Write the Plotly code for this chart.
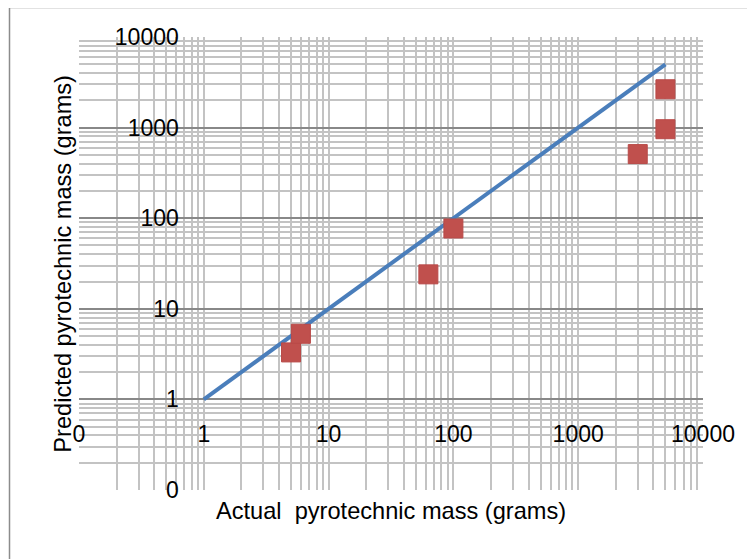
import plotly.graph_objects as go

# Data
line_x = [1, 5000]
line_y = [1, 5000]
pts_x = [5, 6, 63, 100, 3000, 5000, 5000]
pts_y = [3.3, 5.3, 24, 77, 510, 960, 2650]

tick_vals = [0.1, 1, 10, 100, 1000, 10000]
tick_text = ["0", "1", "10", "100", "1000", "10000"]
minor_vals = [m * d for d in [0.1, 1, 10, 100, 1000] for m in range(2, 10)]

FONT = "Liberation Sans"
MAJOR = "#888888"
MINOR = "#C3C3C3"

fig = go.Figure()
fig.add_trace(go.Scatter(x=line_x, y=line_y, mode="lines",
                         line=dict(color="#4A7EBB", width=4), showlegend=False))
fig.add_trace(go.Scatter(x=pts_x, y=pts_y, mode="markers",
                         marker=dict(symbol="square", size=19, color="#C0504D",
                                     line=dict(color="#B94A48", width=1)),
                         showlegend=False))

fig.update_layout(
    width=755, height=559,
    margin=dict(l=71, r=60, t=29, b=77),
    paper_bgcolor="white", plot_bgcolor="white",
    font=dict(family=FONT, size=23, color="black"),
    xaxis=dict(type="log", range=[-1, 4], anchor="free", position=0.2,
               automargin=False,
               tickmode="array", tickvals=tick_vals, ticktext=tick_text,
               showgrid=False, zeroline=False,
               showline=False, ticks="", ticklabelstandoff=19,
               minor=dict(tickmode="array", tickvals=minor_vals + tick_vals,
                          showgrid=True, gridcolor=MINOR, gridwidth=1.5, ticks="")),
    yaxis=dict(type="log", range=[-1, 4], anchor="free", position=0.2,
               automargin=False,
               tickmode="array", tickvals=tick_vals, ticktext=tick_text,
               showgrid=True, gridcolor=MAJOR, gridwidth=1.5, zeroline=False,
               showline=False, ticks="", ticklabelstandoff=25,
               minor=dict(tickmode="array", tickvals=minor_vals,
                          showgrid=True, gridcolor=MINOR, gridwidth=1.5, ticks="")),
)

# x=1 vertical axis line
fig.add_shape(type="line", xref="x", yref="paper", x0=1, x1=1, y0=0, y1=1,
              line=dict(color=MAJOR, width=1.5), layer="below")

# axis titles
fig.add_annotation(text="Actual  pyrotechnic mass (grams)", xref="paper", yref="paper",
                   x=0.5, y=-0.046, yanchor="middle", showarrow=False,
                   font=dict(family=FONT, size=23.6))
fig.add_annotation(text="Predicted pyrotechnic mass (grams)", xref="paper", yref="paper",
                   x=-0.027, xanchor="center", y=0.5, textangle=-90, showarrow=False,
                   font=dict(family=FONT, size=23.6))

# chart area border
fig.add_shape(type="rect", xref="paper", yref="paper",
              x0=(9.5 - 79) / 624, y0=1 + (37 - 7.5) / 453,
              x1=1.2, y1=-0.3, line=dict(color="#8C8C8C", width=1.5), layer="below")

fig.write_html("out.html")
